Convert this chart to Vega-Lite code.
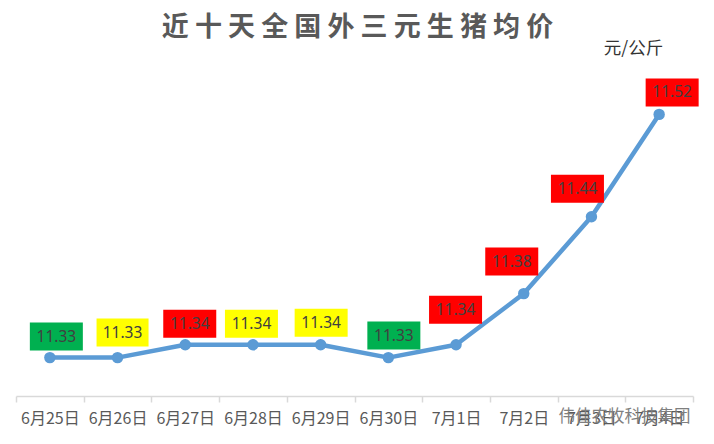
{"$schema":"https://vega.github.io/schema/vega-lite/v6.json","width":677,"height":384,"autosize":"none","padding":{"left":16,"top":12,"right":21,"bottom":48},"background":"white","view":{"stroke":null},"title":{"text":"近 十 天 全 国 外 三 元 生 猪 均 价","font":"Noto Sans CJK SC","fontSize":27,"fontWeight":"bold","color":"#595959","anchor":"middle","dx":3,"offset":-30},"data":{"values":[{"date":"6月25日","price":11.33,"change":"down"},{"date":"6月26日","price":11.33,"change":"flat"},{"date":"6月27日","price":11.34,"change":"up"},{"date":"6月28日","price":11.34,"change":"flat"},{"date":"6月29日","price":11.34,"change":"flat"},{"date":"6月30日","price":11.33,"change":"down"},{"date":"7月1日","price":11.34,"change":"up"},{"date":"7月2日","price":11.38,"change":"up"},{"date":"7月3日","price":11.44,"change":"up"},{"date":"7月4日","price":11.52,"change":"up"}]},"encoding":{"x":{"field":"date","type":"nominal","sort":null,"scale":{"type":"band","paddingInner":0,"paddingOuter":0},"axis":{"title":"伟佳农牧科技集团","titleFont":"Noto Sans CJK SC","titleFontSize":16.5,"titleFontWeight":"normal","titleColor":"#7f7f7f","titleX":608,"titleY":12,"titleAnchor":"middle","labelAngle":0,"labelFont":"Noto Sans CJK SC","labelFontSize":16,"labelColor":"#595959","labelPadding":8,"labelOverlap":false,"tickBand":"extent","tickSize":6,"tickWidth":1.5,"tickColor":"#d9d9d9","domainColor":"#d9d9d9","domainWidth":1.5,"grid":false}},"y":{"field":"price","type":"quantitative","scale":{"domain":[11.3,11.6],"nice":false,"zero":false},"axis":{"orient":"right","title":"元/公斤","titleFont":"Noto Sans CJK SC","titleFontSize":17.5,"titleFontWeight":"normal","titleColor":"#333333","titleAngle":0,"titleX":-60,"titleY":36,"titleAlign":"center","titleBaseline":"middle","labels":false,"ticks":false,"domain":false,"grid":false}},"color":{"field":"change","type":"nominal","legend":null,"scale":{"domain":["down","flat","up"],"range":["#00b050","#ffff00","#ff0000"]}}},"layer":[{"mark":{"type":"line","color":"#5b9bd5","strokeWidth":4.5,"strokeCap":"round","strokeJoin":"round"},"encoding":{"color":{"value":"#5b9bd5"}}},{"mark":{"type":"circle","size":130,"opacity":1},"encoding":{"color":{"value":"#5b9bd5"}}},{"transform":[{"filter":"datum.date==='6月25日'"}],"layer":[{"mark":{"type":"rect","width":53,"height":28,"xOffset":6.5,"yOffset":-21}},{"mark":{"type":"text","font":"Noto Sans","fontSize":15.5,"xOffset":6.5,"yOffset":-21},"encoding":{"text":{"field":"price","format":".2f"},"color":{"value":"#404040"}}}]},{"transform":[{"filter":"datum.date==='6月26日'"}],"layer":[{"mark":{"type":"rect","width":52,"height":28,"xOffset":5,"yOffset":-25}},{"mark":{"type":"text","font":"Noto Sans","fontSize":15.5,"xOffset":5,"yOffset":-25},"encoding":{"text":{"field":"price","format":".2f"},"color":{"value":"#404040"}}}]},{"transform":[{"filter":"datum.date==='6月27日'"}],"layer":[{"mark":{"type":"rect","width":53,"height":28,"xOffset":4.5,"yOffset":-21}},{"mark":{"type":"text","font":"Noto Sans","fontSize":15.5,"xOffset":4.5,"yOffset":-21},"encoding":{"text":{"field":"price","format":".2f"},"color":{"value":"#404040"}}}]},{"transform":[{"filter":"datum.date==='6月28日'"}],"layer":[{"mark":{"type":"rect","width":53,"height":28,"xOffset":-1.5,"yOffset":-21}},{"mark":{"type":"text","font":"Noto Sans","fontSize":15.5,"xOffset":-1.5,"yOffset":-21},"encoding":{"text":{"field":"price","format":".2f"},"color":{"value":"#404040"}}}]},{"transform":[{"filter":"datum.date==='6月29日'"}],"layer":[{"mark":{"type":"rect","width":53,"height":28,"xOffset":0.5,"yOffset":-22}},{"mark":{"type":"text","font":"Noto Sans","fontSize":15.5,"xOffset":0.5,"yOffset":-22},"encoding":{"text":{"field":"price","format":".2f"},"color":{"value":"#404040"}}}]},{"transform":[{"filter":"datum.date==='6月30日'"}],"layer":[{"mark":{"type":"rect","width":53,"height":28,"xOffset":5.5,"yOffset":-22}},{"mark":{"type":"text","font":"Noto Sans","fontSize":15.5,"xOffset":5.5,"yOffset":-22},"encoding":{"text":{"field":"price","format":".2f"},"color":{"value":"#404040"}}}]},{"transform":[{"filter":"datum.date==='7月1日'"}],"layer":[{"mark":{"type":"rect","width":53,"height":28,"xOffset":-0.5,"yOffset":-35}},{"mark":{"type":"text","font":"Noto Sans","fontSize":15.5,"xOffset":-0.5,"yOffset":-35},"encoding":{"text":{"field":"price","format":".2f"},"color":{"value":"#404040"}}}]},{"transform":[{"filter":"datum.date==='7月2日'"}],"layer":[{"mark":{"type":"rect","width":53,"height":28,"xOffset":-12,"yOffset":-32}},{"mark":{"type":"text","font":"Noto Sans","fontSize":15.5,"xOffset":-12,"yOffset":-32},"encoding":{"text":{"field":"price","format":".2f"},"color":{"value":"#404040"}}}]},{"transform":[{"filter":"datum.date==='7月3日'"}],"layer":[{"mark":{"type":"rect","width":53,"height":28,"xOffset":-14,"yOffset":-28}},{"mark":{"type":"text","font":"Noto Sans","fontSize":15.5,"xOffset":-14,"yOffset":-28},"encoding":{"text":{"field":"price","format":".2f"},"color":{"value":"#404040"}}}]},{"transform":[{"filter":"datum.date==='7月4日'"}],"layer":[{"mark":{"type":"rect","width":53,"height":28,"xOffset":13,"yOffset":-22}},{"mark":{"type":"text","font":"Noto Sans","fontSize":15.5,"xOffset":13,"yOffset":-22},"encoding":{"text":{"field":"price","format":".2f"},"color":{"value":"#404040"}}}]}]}
